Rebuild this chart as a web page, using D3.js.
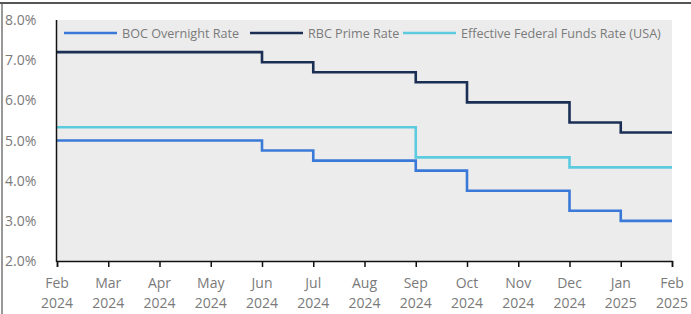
<!DOCTYPE html>
<head>
  <meta charset="utf-8">
  <script src="https://d3js.org/d3.v7.min.js"></script>
<style>
body { margin:0; background:#fff; }
text { font-family: "Open Sans", sans-serif; }
.line { fill:none; stroke-width:2.6px; }
</style>
</head>
<body>
<script>
// months on the x axis (two-line labels)
var months = ["Feb","Mar","Apr","May","Jun","Jul","Aug","Sep","Oct","Nov","Dec","Jan","Feb"];
var years  = ["2024","2024","2024","2024","2024","2024","2024","2024","2024","2024","2024","2025","2025"];

// monthly rate values (%)
var bocRate  = [5.00,5.00,5.00,5.00,4.75,4.50,4.50,4.25,3.75,3.75,3.25,3.00,3.00];
var rbcPrime = [7.20,7.20,7.20,7.20,6.95,6.70,6.70,6.45,5.95,5.95,5.45,5.20,5.20];
var effr     = [5.33,5.33,5.33,5.33,5.33,5.33,5.33,4.58,4.58,4.58,4.33,4.33,4.33];

var yTicks = [2,3,4,5,6,7,8];

var series = [
  {name:"BOC Overnight Rate", values:bocRate, color:"#3b79d8"},
  {name:"RBC Prime Rate", values:rbcPrime, color:"#1b2f55"},
  {name:"Effective Federal Funds Rate (USA)", values:effr, color:"#5ccbe0"}
];

var W = 691, H = 314;
var margin = {top:20, right:20, bottom:53, left:57};
var width = 672 - margin.left, height = 261 - margin.top;

var svg = d3.select("body").append("svg").attr("width", W).attr("height", H);

// outer frame (top and left edges)
svg.append("line").attr("x1",0).attr("x2",W).attr("y1",3).attr("y2",3)
  .attr("stroke","#555").attr("stroke-width",2);
svg.append("line").attr("x1",2).attr("x2",2).attr("y1",3).attr("y2",H)
  .attr("stroke","#555").attr("stroke-width",1.2);

var g = svg.append("g").attr("transform","translate(" + margin.left + "," + margin.top + ")");

var x = d3.scaleLinear().domain([0, months.length - 1]).range([0, width]);
var y = d3.scaleLinear().domain([2, 8]).range([height, 0]);

g.append("rect").attr("width", width).attr("height", height).attr("fill","#ececec");

var line = d3.line()
  .x((d, i) => x(i))
  .y(d => y(d))
  .curve(d3.curveStepAfter);

series.forEach(s => {
  g.append("path").datum(s.values)
    .attr("class","line")
    .attr("stroke", s.color)
    .attr("d", line);
});

// y axis labels (left aligned)
g.selectAll(".ylab").data(yTicks).enter().append("text")
  .attr("x", 5 - margin.left)
  .attr("y", d => y(d) + 5)
  .attr("fill","#7a7a7a")
  .style("font-size","14px")
  .text(d => d.toFixed(1) + "%");

// left axis line
g.append("line").attr("x1",-0.5).attr("x2",-0.5).attr("y1",0).attr("y2",height+1)
  .attr("stroke","#111").attr("stroke-width",1.5);

// x axis
var xAxis = g.append("g").attr("transform","translate(0," + height + ")")
  .call(d3.axisBottom(x).tickValues(d3.range(months.length)).tickSize(6).tickFormat(""));
xAxis.select(".domain").attr("stroke","#111").attr("stroke-width",1.5);
xAxis.selectAll(".tick line").attr("stroke","#111").attr("stroke-width",1.5);

var lab = g.selectAll(".xlab").data(months).enter().append("text")
  .attr("text-anchor","middle")
  .attr("fill","#7a7a7a")
  .style("font-size","14px");
lab.append("tspan").attr("x",(d,i) => x(i)).attr("y", height + 27).text(d => d);
lab.append("tspan").attr("x",(d,i) => x(i)).attr("y", height + 47).text((d,i) => years[i]);

// legend
var legX = [7, 193, 346];
var leg = g.selectAll(".leg").data(series).enter().append("g")
  .attr("transform",(d,i) => "translate(" + legX[i] + ",13)");
leg.append("line").attr("x1",0).attr("x2",53).attr("stroke",d => d.color).attr("stroke-width",2.6);
leg.append("text").attr("x",58).attr("y",5).attr("fill","#7a7a7a").style("font-size","12.6px").text(d => d.name);
</script>
</body>
